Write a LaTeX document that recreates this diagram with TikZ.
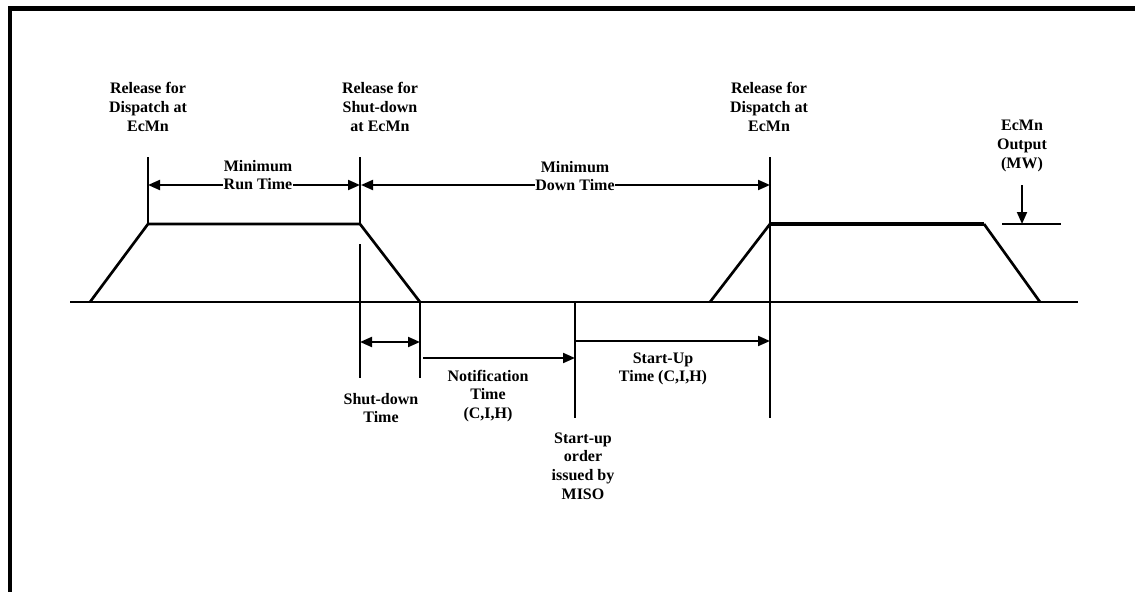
\documentclass[tikz,border=0pt]{standalone}
\usepackage{fontspec}
\setmainfont{Liberation Serif}
\usetikzlibrary{arrows.meta}
\begin{document}
\begin{tikzpicture}[x=0.75pt,y=-0.75pt,
  lbl/.style={align=center,font=\fontsize{12}{14}\selectfont\bfseries,inner sep=0pt},
  lblw/.style={lbl,fill=white,inner sep=0.6pt},
  curve/.style={line width=2pt,line join=miter},
  tick/.style={line width=1.5pt},
  dim/.style={line width=1.5pt,-{Triangle[length=9pt,width=7.5pt]}},
  ddim/.style={line width=1.5pt,{Triangle[length=9pt,width=7.5pt]}-{Triangle[length=9pt,width=7.5pt]}}]
\useasboundingbox (0,0) rectangle (1135,592);
% frame
\draw[line width=3.5pt] (10,592) -- (10,8.5) -- (1135,8.5);
% base line
\coordinate (b0) at (70,302); \coordinate (b1) at (1078,302);
\draw[curve] (b0) -- (b1);
% first trapezoid
\coordinate (t1a) at (90,302); \coordinate (t1b) at (148,224);
\coordinate (t1c) at (360,224); \coordinate (t1d) at (420,302);
\draw[curve] (t1a) -- (t1b) -- (t1c) -- (t1d);
% second trapezoid
\coordinate (t2a) at (710,302); \coordinate (t2b) at (770,224);
\coordinate (t2c) at (984,224); \coordinate (t2d) at (1040,302);
\draw[curve] (t2a) -- (t2b);
\draw[line width=2.6pt] (t2b) -- (t2c);
\draw[curve] (t2c) -- (t2d);
% vertical ticks
\coordinate (v1t) at (148,157); \coordinate (v1b) at (148,224);
\coordinate (v2t) at (360,157); \coordinate (v2b) at (360,224);
\coordinate (v2lt) at (360,244); \coordinate (v2lb) at (360,378);
\coordinate (v3t) at (420,302); \coordinate (v3b) at (420,378);
\coordinate (v4t) at (575,302); \coordinate (v4b) at (575,418);
\coordinate (v5t) at (770,157); \coordinate (v5b) at (770,418);
\draw[tick] (v1t) -- (v1b);
\draw[tick] (v2t) -- (v2b);
\draw[tick] (v2lt) -- (v2lb);
\draw[tick] (v3t) -- (v3b);
\draw[tick] (v4t) -- (v4b);
\draw[tick] (v5t) -- (v5b);
% dimension arrows
\coordinate (mr0) at (148,185); \coordinate (mr1) at (360,185);
\coordinate (md0) at (361,185); \coordinate (md1) at (770,185);
\coordinate (sd0) at (360,342); \coordinate (sd1) at (420,342);
\coordinate (nt0) at (423,358); \coordinate (nt1) at (575,358);
\coordinate (su0) at (575,341); \coordinate (su1) at (770,341);
\draw[ddim] (mr0) -- (mr1);
\draw[ddim] (md0) -- (md1);
\draw[ddim] (sd0) -- (sd1);
\draw[dim] (nt0) -- (nt1);
\draw[dim] (su0) -- (su1);
% output marker
\coordinate (o0) at (1002,224); \coordinate (o1) at (1061,224);
\coordinate (oa) at (1022,185); \coordinate (ob) at (1022,224);
\draw[tick] (o0) -- (o1);
\draw[dim] (oa) -- (ob);
% labels
\node[lbl] (rel1) at (148,107) {Release for\\Dispatch at\\EcMn};
\node[lbl] (rel2) at (380,107) {Release for\\Shut-down\\at EcMn};
\node[lbl] (rel3) at (769,107) {Release for\\Dispatch at\\EcMn};
\node[lbl] (out) at (1022,146) {EcMn\\Output\\(MW)};
\node[lblw] (minrun) at (258,175) {Minimum\\Run Time};
\node[lblw] (mindown) at (575,176) {Minimum\\Down Time};
\node[lbl] (sdt) at (381,408) {Shut-down\\Time};
\node[lbl] (notif) at (488,396) {Notification\\Time\\(C,I,H)};
\node[lbl] (order) at (583,466) {Start-up\\order\\issued by\\MISO};
\node[lbl] (sut) at (663,369) {Start-Up\\Time (C,I,H)};
\end{tikzpicture}
\end{document}
